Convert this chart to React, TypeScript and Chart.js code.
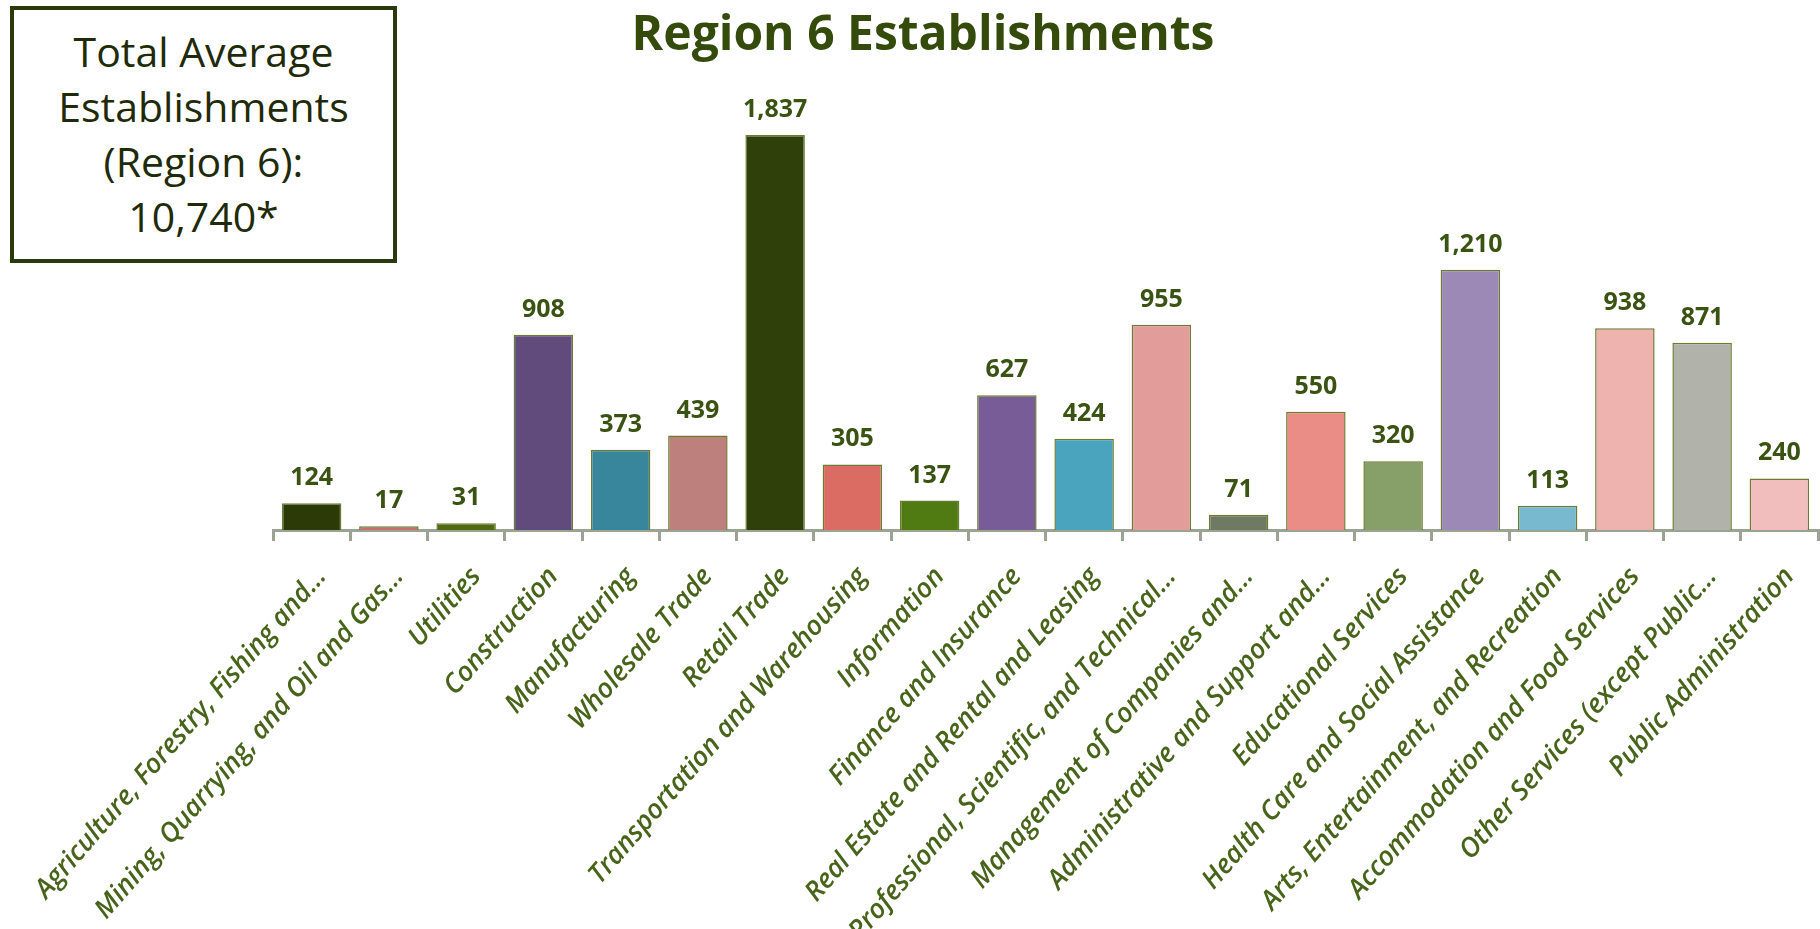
import React, { useEffect, useRef } from "react";
import { Chart, registerables } from "chart.js";

Chart.register(...registerables);

const categories: string[] = [
  "Agriculture, Forestry, Fishing and…",
  "Mining, Quarrying, and Oil and Gas…",
  "Utilities",
  "Construction",
  "Manufacturing",
  "Wholesale Trade",
  "Retail Trade",
  "Transportation and Warehousing",
  "Information",
  "Finance and Insurance",
  "Real Estate and Rental and Leasing",
  "Professional, Scientific, and Technical…",
  "Management of Companies and…",
  "Administrative and Support and…",
  "Educational Services",
  "Health Care and Social Assistance",
  "Arts, Entertainment, and Recreation",
  "Accommodation and Food Services",
  "Other Services (except Public…",
  "Public Administration",
];

const establishments: number[] = [
  124, 17, 31, 908, 373, 439, 1837, 305, 137, 627, 424, 955, 71, 550, 320, 1210,
  113, 938, 871, 240,
];

const barColors: string[] = [
  "#2c3a08",
  "#c8706a",
  "#4f6b12",
  "#614b7c",
  "#37869b",
  "#bd807c",
  "#2f400a",
  "#da6c64",
  "#507a12",
  "#775c98",
  "#4aa4bd",
  "#e29d9a",
  "#6f7a63",
  "#e98d86",
  "#87a06a",
  "#9d89b5",
  "#79b9cf",
  "#efb3af",
  "#b1b3ab",
  "#f2bebd",
];

const chartTitle = "Region 6 Establishments";
const boxLines: string[] = ["Total Average", "Establishments", "(Region 6):", "10,740*"];

const W = 1820;
const H = 929;
const AXIS_Y = 530;

const overlayPlugin = {
  id: "overlayText",
  afterDatasetsDraw(chart: any) {
    const ctx = chart.ctx;
    const meta = chart.getDatasetMeta(0);
    ctx.save();
    ctx.font = 'bold 25px "Open Sans"';
    ctx.fillStyle = "#3b5312";
    ctx.textAlign = "center";
    ctx.textBaseline = "alphabetic";
    meta.data.forEach((el: any, i: number) => {
      ctx.fillText(establishments[i].toLocaleString("en-US"), el.x, el.y - 18);
    });
    ctx.font = 'bold 48px "Open Sans"';
    ctx.fillStyle = "#344b0c";
    ctx.fillText(chartTitle, 923, 50);
    ctx.restore();
  },
};

export default function App() {
  const canvasRef = useRef<HTMLCanvasElement | null>(null);

  useEffect(() => {
    if (!canvasRef.current) return;
    const chart = new Chart(canvasRef.current, {
      type: "bar",
      data: {
        labels: categories,
        datasets: [
          {
            data: establishments,
            backgroundColor: barColors,
            borderColor: "#6b7b33",
            borderWidth: 1.5,
            barPercentage: 0.77,
            categoryPercentage: 1,
          },
        ],
      },
      options: {
        responsive: false,
        animation: false,
        devicePixelRatio: 1,
        layout: { padding: { left: 273, right: 2, top: 100, bottom: 0 } },
        plugins: {
          legend: { display: false },
          title: { display: false },
          tooltip: { enabled: false },
        },
        scales: {
          y: { display: false, min: 0, max: 2000 },
          x: {
            offset: true,
            border: { display: true, color: "#9ba393", width: 3 },
            grid: {
              display: true,
              offset: true,
              drawOnChartArea: false,
              drawTicks: true,
              tickLength: 11,
              color: "#9ba393",
              lineWidth: 3,
            },
            ticks: {
              autoSkip: false,
              minRotation: 49,
              maxRotation: 49,
              padding: 20,
              labelOffset: 10,
              color: "#48641a",
              font: { family: "Open Sans", size: 27, style: "italic", weight: "600" },
            },
            afterFit(scale: any) {
              scale.height = H - AXIS_Y;
              scale.paddingLeft = 0;
              scale.paddingRight = 0;
            },
          },
        },
      },
      plugins: [overlayPlugin],
    });
    return () => chart.destroy();
  }, []);

  return (
    <div
      style={{
        position: "fixed",
        left: 0,
        top: 0,
        width: W,
        height: H,
        overflow: "hidden",
        background: "#ffffff",
      }}
    >
      <canvas
        ref={canvasRef}
        width={W}
        height={H}
        style={{ position: "absolute", left: 0, top: 0, width: W, height: H }}
      />
      <div
        style={{
          position: "absolute",
          left: 10,
          top: 6,
          width: 387,
          height: 257,
          boxSizing: "border-box",
          border: "4px solid #2b3a0a",
          paddingTop: 14,
          textAlign: "center",
          fontFamily: '"Open Sans", sans-serif',
          fontSize: 41,
          lineHeight: "55px",
          color: "#1f2a08",
          background: "#ffffff",
        }}
      >
        {boxLines.map((line) => (
          <div key={line}>{line}</div>
        ))}
      </div>
    </div>
  );
}
